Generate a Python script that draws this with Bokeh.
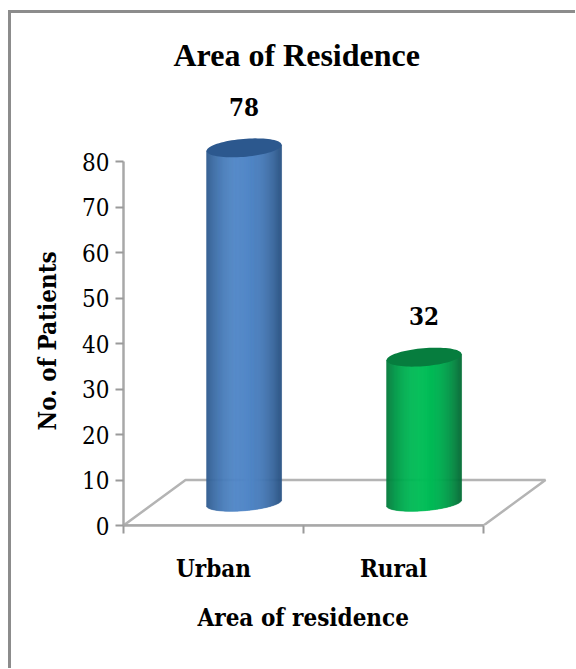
from bokeh.plotting import figure
from bokeh.models import FixedTicker, Label, Range1d, Title
from bokeh.embed import file_html
from bokeh.resources import INLINE
import numpy as np

categories = ["Urban", "Rural"]
patients = [78, 32]
y_ticks = [0, 10, 20, 30, 40, 50, 60, 70, 80]
edge_colors = [(43, 85, 135), (5, 112, 56)]
center_colors = [(82, 136, 200), (0, 190, 88)]
top_colors = [(44, 88, 142), (6, 125, 62)]

SERIF = "DejaVu Serif Condensed"
PX_X = 180.0
PX_Y = 4.55
BASE = 5.0
SHIFT = 0.17
HALF_W = 0.208
SLANT = 3.0 / PX_Y
TOP_B = 9.0 / PX_Y
BOT_B = 8.0 / PX_Y

p = figure(width=567, height=658, output_backend="svg", toolbar_location=None,
           x_range=Range1d(0, 425 / PX_X), y_range=Range1d(0, 435 / PX_Y),
           min_border_left=112, min_border_right=30, min_border_top=77,
           min_border_bottom=146, background_fill_color="white",
           border_fill_color="white", outline_line_color=None,
           margin=(10, 0, 0, 8))
p.styles = {"border-top": "3px solid #8c8c8c", "border-left": "3px solid #8c8c8c"}
p.grid.visible = False

p.title = Title(text="Area of Residence", align="left", offset=50, standoff=35,
                text_font="Liberation Serif", text_font_size="32px",
                text_font_style="bold", text_color="black")

# Floor in perspective
floor_dx = 62 / PX_X
floor_dy = 10
p.line([0, 2, 2 + floor_dx, floor_dx, 0], [0, 0, floor_dy, floor_dy, 0],
       line_color="#b4b4b4", line_width=2.5)

# Cylinders
for i, v in enumerate(patients):
    cx = i + 0.5 + SHIFT
    top = v + BASE
    n = 76
    xs = np.linspace(-HALF_W, HALF_W, n + 1)
    mids = (xs[:-1] + xs[1:]) / 2
    u = mids / HALF_W
    low = BASE + SLANT * u - BOT_B * np.sqrt(1 - u ** 2)
    high = top + SLANT * u
    shade = np.clip(1 - np.abs(u + 0.05) ** 2.2, 0, 1)
    e, c = np.array(edge_colors[i]), np.array(center_colors[i])
    cols = ["#%02x%02x%02x" % tuple(int(t) for t in e + (c - e) * s) for s in shade]
    p.quad(left=cx + xs[:-1], right=cx + xs[1:], bottom=low, top=high,
           fill_color=cols, line_color=cols, line_width=0.6)
    th = np.linspace(0, 2 * np.pi, 80)
    p.patch(cx + HALF_W * np.cos(th),
            top + SLANT * np.cos(th) + TOP_B * np.sin(th),
            fill_color="#%02x%02x%02x" % top_colors[i], line_color=None)
    p.add_layout(Label(x=cx, y=top, text=str(v), text_align="center", y_offset=32,
                       x_offset=0, text_font=SERIF, text_font_size="24px",
                       text_font_style="bold", text_color="black"))

# Axes
xa = p.xaxis[0]
xa.ticker = FixedTicker(ticks=[0.5, 1.5], minor_ticks=[0, 1, 2])
xa.major_label_overrides = {0.5: categories[0], 1.5: categories[1]}
xa.bounds = (0, 2)
xa.major_tick_line_color = None
xa.major_tick_in = 0
xa.major_tick_out = 8
xa.minor_tick_in = 0
xa.minor_tick_out = 8
xa.minor_tick_line_color = "#9a9a9a"
xa.minor_tick_line_width = 2
xa.axis_line_color = "#a8a8a8"
xa.axis_line_width = 2.5
xa.major_label_standoff = 20
xa.major_label_text_font = SERIF
xa.major_label_text_font_size = "24px"
xa.major_label_text_font_style = "bold"
xa.major_label_text_color = "black"

ya = p.yaxis[0]
ya.ticker = FixedTicker(ticks=y_ticks)
ya.bounds = (0, 80)
ya.major_tick_in = 0
ya.major_tick_out = 8
ya.minor_tick_line_color = None
ya.major_tick_line_color = "#9a9a9a"
ya.major_tick_line_width = 2
ya.axis_line_color = "#a8a8a8"
ya.axis_line_width = 2.5
ya.major_label_standoff = 6
ya.major_label_text_font = SERIF
ya.major_label_text_font_size = "24px"
ya.major_label_text_color = "black"

# Axis captions: placed as side titles so they sit where the original has them
p.add_layout(Title(text="No. of Patients", align="left", offset=95, standoff=36,
                   text_font=SERIF, text_font_size="24px",
                   text_font_style="bold", text_color="black"), "left")
p.add_layout(Title(text="Area of residence", align="left", offset=74, standoff=30,
                   text_font=SERIF, text_font_size="24px",
                   text_font_style="bold", text_color="black"), "below")

open("out.html", "w").write(file_html(p, INLINE))
